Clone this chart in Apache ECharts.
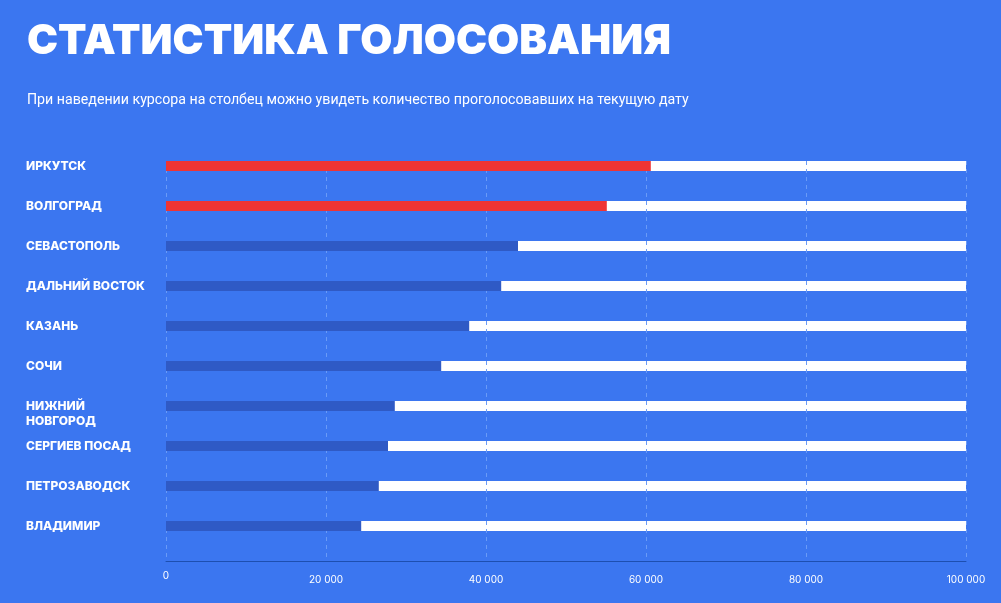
<!DOCTYPE html>
<html>
<head>
<meta charset="utf-8">
<script src="https://cdn.jsdelivr.net/npm/echarts@6/dist/echarts.min.js"></script>
<style>
html,body{margin:0;padding:0;background:#3b76f0;}
#chart{width:1001px;height:603px;}
</style>
</head>
<body>
<div id="chart"></div>
<script>
const titleText = 'СТАТИСТИКА ГОЛОСОВАНИЯ';
const subtitleText = 'При наведении курсора на столбец можно увидеть количество проголосовавших на текущую дату';
const cities = ['ИРКУТСК', 'ВОЛГОГРАД', 'СЕВАСТОПОЛЬ', 'ДАЛЬНИЙ ВОСТОК', 'КАЗАНЬ', 'СОЧИ', 'НИЖНИЙ НОВГОРОД', 'СЕРГИЕВ ПОСАД', 'ПЕТРОЗАВОДСК', 'ВЛАДИМИР'];
const votes = [60600, 55100, 44000, 41900, 37900, 34400, 28600, 27750, 26600, 24400];
const axisMax = 100000;
const axisStep = 20000;

const chart = echarts.init(document.getElementById('chart'));
const fmt = v => v === 0 ? '{z|0}' : String(v).replace(/\B(?=(\d{3})+(?!\d))/g, ' ');

chart.setOption({
  backgroundColor: '#3b76f0',
  animation: false,
  title: {
    text: titleText,
    subtext: subtitleText,
    left: 22,
    top: 15,
    itemGap: 31.5,
    textStyle: { color: '#ffffff', fontSize: 41.6, fontWeight: 900, fontFamily: 'Inter' },
    subtextStyle: { color: '#ffffff', fontSize: 14.2, fontFamily: 'Roboto' }
  },
  grid: [
    { left: 166, right: 35, top: 146, bottom: 57 },
    { left: 166, right: 35, top: 161, bottom: 42 }
  ],
  xAxis: [
    { gridIndex: 0, type: 'value', min: 0, max: axisMax, show: false },
    {
      gridIndex: 1, type: 'value', min: 0, max: axisMax, interval: axisStep, z: 2,
      axisLine: { show: true, lineStyle: { color: '#1d4fb0', width: 1 } },
      axisTick: { show: false },
      splitLine: { show: true, lineStyle: { color: '#6a9bf7', type: [4, 4], width: 1 } },
      axisLabel: {
        color: '#ffffff', fontSize: 10, fontFamily: 'Inter', margin: 9, lineHeight: 20,
        formatter: fmt,
        rich: { z: { lineHeight: 12, fontSize: 10, fontFamily: 'Inter', color: '#ffffff' } }
      }
    }
  ],
  yAxis: [
    {
      gridIndex: 0, type: 'category', data: cities, inverse: true,
      axisLine: { show: false }, axisTick: { show: false }, splitLine: { show: false },
      axisLabel: {
        color: '#ffffff', fontSize: 12, fontWeight: 800, fontFamily: 'Inter',
        align: 'left', margin: 140, lineHeight: 15,
        formatter: v => v === 'НИЖНИЙ НОВГОРОД' ? '\nНИЖНИЙ\nНОВГОРОД' : v
      }
    },
    { gridIndex: 1, type: 'value', show: false }
  ],
  series: [
    {
      type: 'bar', xAxisIndex: 0, yAxisIndex: 0, data: votes, barWidth: 10, z: 1,
      itemStyle: { color: 'rgba(0,0,0,0)' },
      showBackground: true, backgroundStyle: { color: '#ffffff', opacity: 1 },
      silent: true
    },
    {
      type: 'bar', xAxisIndex: 0, yAxisIndex: 0, data: votes, barWidth: 10, barGap: '-100%', z: 3,
      itemStyle: { color: p => p.dataIndex < 2 ? '#ef3434' : '#2f5ac5' }
    }
  ]
});
</script>
</body>
</html>
